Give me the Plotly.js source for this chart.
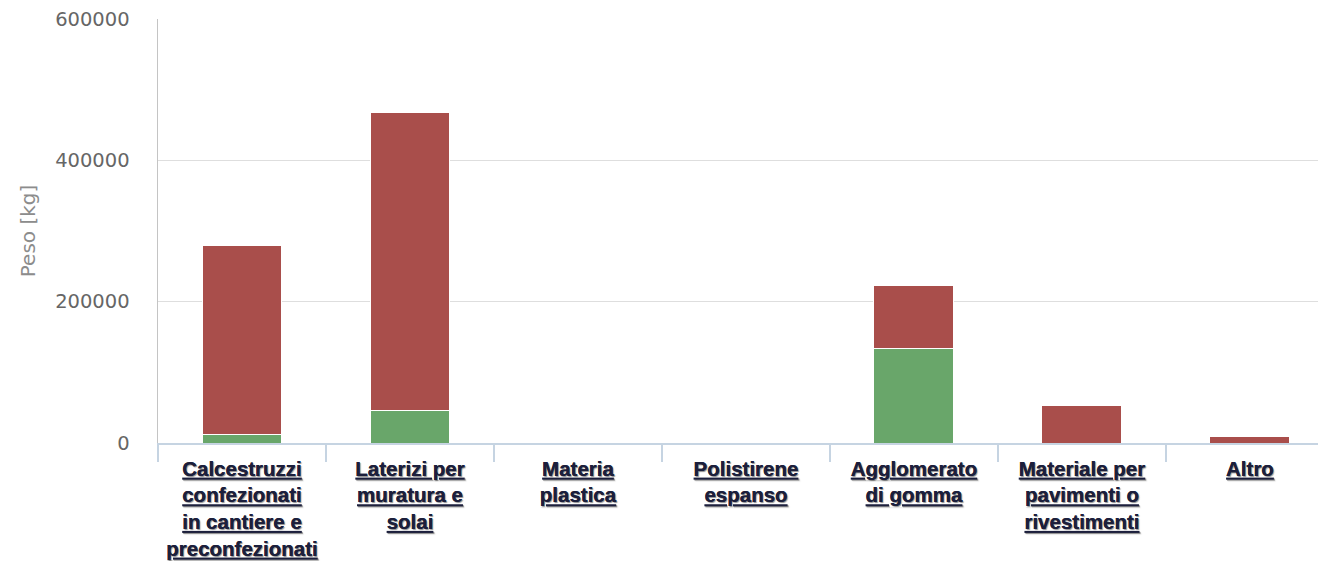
<!DOCTYPE html>
<html>
<head>
<meta charset="utf-8">
<script src="https://cdn.plot.ly/plotly-3.0.1.min.js"></script>
<style>
  html, body { margin: 0; padding: 0; background: #ffffff; }
  #chart { width: 1318px; height: 561px; }
</style>
</head>
<body>
<div id="chart"></div>
<script>
// Categories (materials)
var categories = [
  "Calcestruzzi confezionati in cantiere e preconfezionati",
  "Laterizi per muratura e solai",
  "Materia plastica",
  "Polistirene espanso",
  "Agglomerato di gomma",
  "Materiale per pavimenti o rivestimenti",
  "Altro"
];
// Tick labels as wrapped in the reference
var tickLabels = [
  "Calcestruzzi<br>confezionati<br>in cantiere e<br>preconfezionati",
  "Laterizi per<br>muratura e<br>solai",
  "Materia<br>plastica",
  "Polistirene<br>espanso",
  "Agglomerato<br>di gomma",
  "Materiale per<br>pavimenti o<br>rivestimenti",
  "Altro"
];
// Series values (kg)
var greenValues = [12000, 46000, 0, 0, 134000, 0, 0];
var redValues   = [268000, 421000, 0, 0, 89000, 53500, 8800];
var yTicks = [0, 200000, 400000, 600000];

var traces = [
  {
    type: "bar",
    x: categories,
    y: greenValues,
    marker: { color: "#69a66a", line: { color: "#ffffff", width: 1 } },
    hoverinfo: "none"
  },
  {
    type: "bar",
    x: categories,
    y: redValues,
    marker: { color: "#a94e4b", line: { color: "#ffffff", width: 1 } },
    hoverinfo: "none"
  }
];

var layout = {
  width: 1318,
  height: 561,
  margin: { l: 158, r: 0, t: 19, b: 118, pad: 0 },
  paper_bgcolor: "#ffffff",
  plot_bgcolor: "#ffffff",
  barmode: "stack",
  bargap: 0.524,
  showlegend: false,
  xaxis: {
    type: "category",
    range: [-0.5, 6.405],
    tickvals: categories,
    ticktext: tickLabels,
    tickson: "boundaries",
    ticks: "outside",
    ticklen: 17,
    tickwidth: 1.5,
    tickcolor: "#c6d4e2",
    ticklabelstandoff: 6,
    showline: true,
    linecolor: "#c6d4e2",
    linewidth: 2,
    showgrid: false,
    zeroline: false,
    tickangle: 0,
    tickfont: {
      family: "Liberation Sans, Arial, sans-serif",
      size: 20.5,
      color: "#1c1f3c",
      weight: "bold",
      lineposition: "under",
      shadow: "1px 1px 1px rgba(0,0,0,0.25)"
    },
    fixedrange: true
  },
  yaxis: {
    range: [0, 600000],
    tickvals: yTicks,
    ticktext: yTicks.map(String),
    showgrid: true,
    gridcolor: "#dedede",
    gridwidth: 1,
    zeroline: false,
    showline: true,
    linecolor: "#c4c4c4",
    linewidth: 1.5,
    ticks: "outside",
    ticklen: 23,
    tickcolor: "rgba(0,0,0,0)",
    tickfont: { family: "DejaVu Sans, sans-serif", size: 19.5, color: "#666666" },
    title: {
      text: "Peso [kg]",
      font: { family: "DejaVu Sans, sans-serif", size: 20, color: "#8c8c8c" },
      standoff: 14
    },
    fixedrange: true
  }
};

Plotly.newPlot("chart", traces, layout, { displayModeBar: false, staticPlot: true });
</script>
</body>
</html>
